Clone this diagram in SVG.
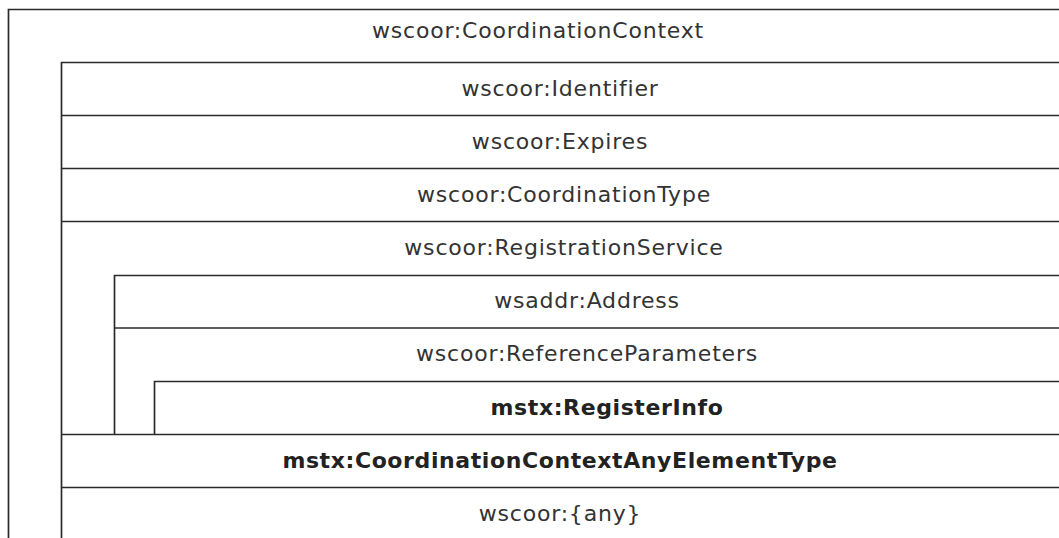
<svg xmlns="http://www.w3.org/2000/svg" width="1059" height="538" viewBox="0 0 1059 538">
<style>
  .ln { stroke: #2b2b2b; stroke-width: 1.7; fill: none; }
  .t { font-family: "DejaVu Sans", Verdana, sans-serif; font-size: 22px; letter-spacing: 0.8px; fill: #333; text-anchor: middle; }
  .b { font-weight: bold; fill: #222; letter-spacing: 0.6px; }
</style>
<rect width="1059" height="538" fill="#fff"/>
<g id="connectors">
  <path class="ln" d="M8.5 538 V9.5 H1060"/>
  <path class="ln" d="M61.5 538 V62.5 H1060"/>
  <path class="ln" d="M61 115.5 H1060"/>
  <path class="ln" d="M61 168.5 H1060"/>
  <path class="ln" d="M61 221.5 H1060"/>
  <path class="ln" d="M114.5 435 V275.5 H1060"/>
  <path class="ln" d="M114 328 H1060"/>
  <path class="ln" d="M154.5 435 V381.5 H1060"/>
  <path class="ln" d="M61 434.5 H1060"/>
  <path class="ln" d="M61 487.5 H1060"/>
</g>
<g id="node-CoordinationContext"><text class="t" x="538" y="38">wscoor:CoordinationContext</text></g>
<g id="node-Identifier"><text class="t" x="560" y="96">wscoor:Identifier</text></g>
<g id="node-Expires"><text class="t" x="560" y="149">wscoor:Expires</text></g>
<g id="node-CoordinationType"><text class="t" x="564" y="202">wscoor:CoordinationType</text></g>
<g id="node-RegistrationService"><text class="t" x="564" y="255">wscoor:RegistrationService</text></g>
<g id="node-Address"><text class="t" x="587" y="308">wsaddr:Address</text></g>
<g id="node-ReferenceParameters"><text class="t" x="587" y="361">wscoor:ReferenceParameters</text></g>
<g id="node-RegisterInfo"><text class="t b" x="607" y="415">mstx:RegisterInfo</text></g>
<g id="node-AnyElementType"><text class="t b" x="560" y="468">mstx:CoordinationContextAnyElementType</text></g>
<g id="node-any"><text class="t" x="560" y="521">wscoor:{any}</text></g>
</svg>
